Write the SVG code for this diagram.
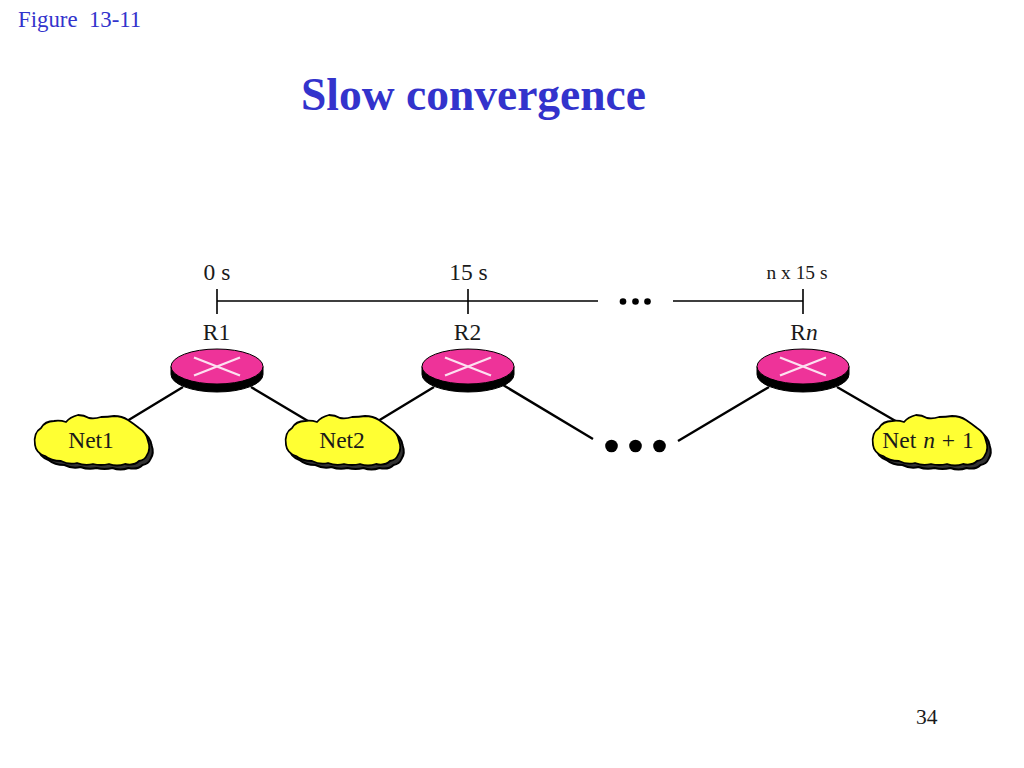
<svg xmlns="http://www.w3.org/2000/svg" xmlns:xlink="http://www.w3.org/1999/xlink" width="1024" height="768" viewBox="0 0 1024 768">
<style>
text{font-family:"Liberation Serif","Times New Roman",serif;fill:#1a1a1a}
.blue{fill:#3333cc}
.lbl{font-size:23.5px;text-anchor:middle}
.line{stroke:#000;fill:none;stroke-linecap:butt}
.top{fill:#ee3399;stroke:#000;stroke-width:1}
.base{fill:#000;stroke:#000;stroke-width:1}
.x{stroke:#fff;stroke-width:2.4;opacity:.85;fill:none}
.cl{fill:#ffff33;stroke:#000;stroke-width:1.8;stroke-linejoin:round}
.sh{fill:#333;stroke:#000;stroke-width:2;stroke-linejoin:round}
</style>
<defs>
<path id="cloudp" d="M35 445Q33 433 41 428Q45 421 54 421Q60 420 66 422Q70 417 78 415Q84 415 89 418Q95 419 101 417Q108 417 114 416Q122 416 128 420Q134 424 139 428Q147 433 148 441Q151 449 147 455Q145 460 139 461Q134 466 125 464Q117 467 109 464Q101 466 93 464Q85 466 77 463Q69 465 61 461Q51 461 45 456Q36 453 35 445Z"/>
<g id="cloud"><use xlink:href="#cloudp" class="sh" transform="translate(3.5 4)"/><use xlink:href="#cloudp" class="cl"/></g>
<g id="router">
<path class="base" d="M-46 0V8A46 17.5 0 0 0 46 8V0Z"/>
<ellipse class="top" cx="0" cy="0" rx="46" ry="17.5"/>
<path class="x" d="M-23 -9L23 9M-23 9L23 -9"/>
</g>
</defs>
<rect width="1024" height="768" fill="#fff"/>
<text x="18" y="27" class="blue" font-size="22.8" xml:space="preserve">Figure  13-11</text>
<text x="301" y="110" class="blue" font-size="45.5" font-weight="bold">Slow convergence</text>
<g id="connectors">
<path class="line" stroke-width="1.6" d="M217 301H598M673 301H803M217 289V314M468 289V314M803 289V314"/>
<path class="line" stroke-width="2.4" d="M183 387L127 421M251 387L313 424M434 387L378 421M503 385L593 439M769 387L678 441M837 387L899 423"/>
</g>
<g id="time-dots"><circle cx="623" cy="301.500" r="3.300"/><circle cx="635.500" cy="301.500" r="3.300"/><circle cx="647.500" cy="301.500" r="3.300"/></g>
<g id="link-dots"><circle cx="611.500" cy="446" r="6.300"/><circle cx="635.500" cy="446" r="6.300"/><circle cx="659.500" cy="446" r="6.300"/></g>
<g id="t0"><text x="217" y="280" class="lbl">0 s</text></g>
<g id="t15"><text x="468.500" y="280" class="lbl">15 s</text></g>
<g id="tn"><text x="797" y="279" class="lbl" style="font-size:19.400px">n x 15 s</text></g>
<g id="R1"><text x="216.500" y="340" class="lbl">R1</text><use xlink:href="#router" transform="translate(217 366.500)"/></g>
<g id="R2"><text x="467.500" y="340" class="lbl">R2</text><use xlink:href="#router" transform="translate(468 366.500)"/></g>
<g id="Rn"><text x="804" y="340" class="lbl">R<tspan font-style="italic">n</tspan></text><use xlink:href="#router" transform="translate(803 366.500)"/></g>
<g id="Net1"><use xlink:href="#cloud"/><text x="91" y="448" class="lbl">Net1</text></g>
<g id="Net2"><use xlink:href="#cloud" transform="translate(251 0)"/><text x="342" y="448" class="lbl">Net2</text></g>
<g id="Netn1"><use xlink:href="#cloud" transform="translate(838 0)"/><text x="928" y="448" class="lbl" word-spacing="1">Net <tspan font-style="italic">n</tspan> + 1</text></g>
<text x="916" y="724" font-size="21.500">34</text>
</svg>
